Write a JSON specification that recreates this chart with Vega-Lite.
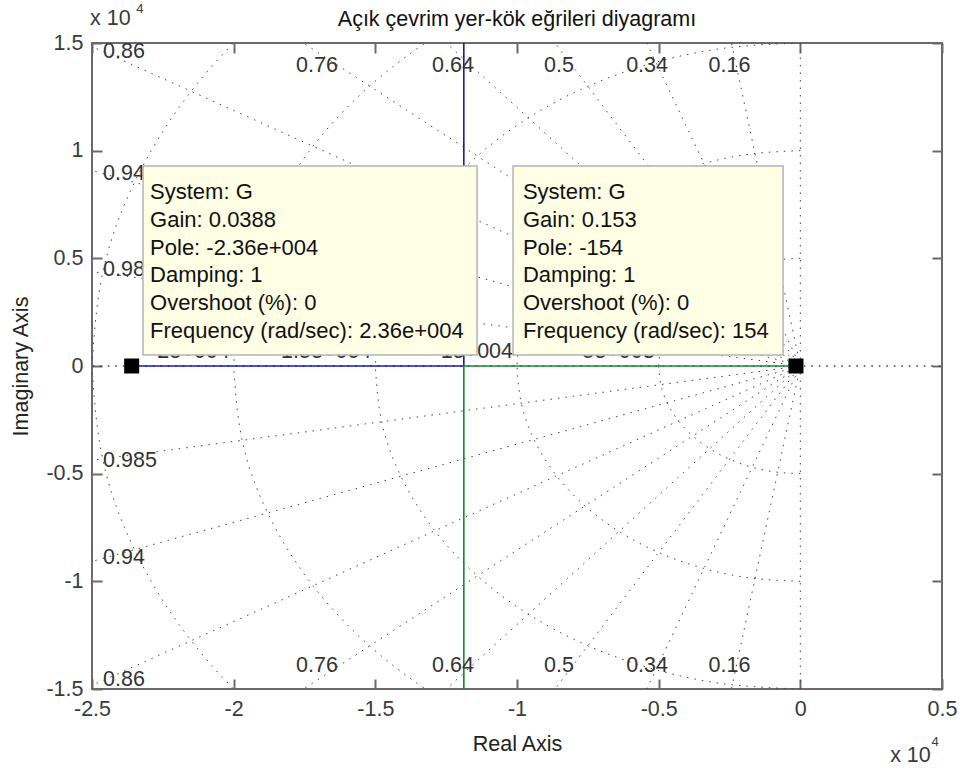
{
  "$schema": "https://vega.github.io/schema/vega-lite/v6.json",
  "width": 850,
  "height": 646,
  "autosize": {"type": "none"},
  "padding": {"left": 92, "top": 43, "right": 18, "bottom": 82},
  "background": "white",
  "config": {
    "view": {"stroke": "#6a6a6a", "strokeWidth": 2},
    "font": "Liberation Sans",
    "axis": {
      "grid": false, "domain": false,
      "labelFont": "Liberation Sans", "titleFont": "Liberation Sans",
      "labelFontSize": 21.5, "titleFontSize": 21.5,
      "labelColor": "#3a3a3a", "titleColor": "#222222", "titleFontWeight": "normal",
      "tickColor": "#6a6a6a", "tickWidth": 2,
      "labelFlush": false, "labelOverlap": false
    }
  },
  "title": {"text": "Açık çevrim yer-kök eğrileri diyagramı", "fontSize": 21.5, "fontWeight": "normal", "font": "Liberation Sans", "color": "#111111", "frame": "group", "anchor": "middle", "offset": 0, "baseline": "alphabetic", "dy": 45},
  "datasets": {
    "rays": [
      {"z": "0.16", "x": -0.48, "y": 2.9614, "yn": -2.9614},
      {"z": "0.34", "x": -1.02, "y": 2.8213, "yn": -2.8213},
      {"z": "0.5", "x": -1.5, "y": 2.5981, "yn": -2.5981},
      {"z": "0.64", "x": -1.92, "y": 2.3051, "yn": -2.3051},
      {"z": "0.76", "x": -2.28, "y": 1.9498, "yn": -1.9498},
      {"z": "0.86", "x": -2.58, "y": 1.5309, "yn": -1.5309},
      {"z": "0.94", "x": -2.82, "y": 1.0235, "yn": -1.0235},
      {"z": "0.985", "x": -2.955, "y": 0.5177, "yn": -0.5177},
      {"z": "0", "x": 0, "y": 3, "yn": -3},
      {"z": "1", "x": -3, "y": 0, "yn": 0},
      {"z": "1r", "x": 0.6, "y": 0, "yn": 0}
    ],
    "circ": [
      {"r": 0.5, "i": 0, "x": 0, "y": 0.5, "yn": -0.5},
      {"r": 0.5, "i": 1, "x": -0.0868, "y": 0.4924, "yn": -0.4924},
      {"r": 0.5, "i": 2, "x": -0.171, "y": 0.4698, "yn": -0.4698},
      {"r": 0.5, "i": 3, "x": -0.25, "y": 0.433, "yn": -0.433},
      {"r": 0.5, "i": 4, "x": -0.3214, "y": 0.383, "yn": -0.383},
      {"r": 0.5, "i": 5, "x": -0.383, "y": 0.3214, "yn": -0.3214},
      {"r": 0.5, "i": 6, "x": -0.433, "y": 0.25, "yn": -0.25},
      {"r": 0.5, "i": 7, "x": -0.4698, "y": 0.171, "yn": -0.171},
      {"r": 0.5, "i": 8, "x": -0.4924, "y": 0.0868, "yn": -0.0868},
      {"r": 0.5, "i": 9, "x": -0.5, "y": 0, "yn": 0},
      {"r": 1, "i": 0, "x": 0, "y": 1, "yn": -1},
      {"r": 1, "i": 1, "x": -0.1736, "y": 0.9848, "yn": -0.9848},
      {"r": 1, "i": 2, "x": -0.342, "y": 0.9397, "yn": -0.9397},
      {"r": 1, "i": 3, "x": -0.5, "y": 0.866, "yn": -0.866},
      {"r": 1, "i": 4, "x": -0.6428, "y": 0.766, "yn": -0.766},
      {"r": 1, "i": 5, "x": -0.766, "y": 0.6428, "yn": -0.6428},
      {"r": 1, "i": 6, "x": -0.866, "y": 0.5, "yn": -0.5},
      {"r": 1, "i": 7, "x": -0.9397, "y": 0.342, "yn": -0.342},
      {"r": 1, "i": 8, "x": -0.9848, "y": 0.1736, "yn": -0.1736},
      {"r": 1, "i": 9, "x": -1, "y": 0, "yn": 0},
      {"r": 1.5, "i": 0, "x": 0, "y": 1.5, "yn": -1.5},
      {"r": 1.5, "i": 1, "x": -0.2605, "y": 1.4772, "yn": -1.4772},
      {"r": 1.5, "i": 2, "x": -0.513, "y": 1.4095, "yn": -1.4095},
      {"r": 1.5, "i": 3, "x": -0.75, "y": 1.299, "yn": -1.299},
      {"r": 1.5, "i": 4, "x": -0.9642, "y": 1.149, "yn": -1.149},
      {"r": 1.5, "i": 5, "x": -1.149, "y": 0.9642, "yn": -0.9642},
      {"r": 1.5, "i": 6, "x": -1.299, "y": 0.75, "yn": -0.75},
      {"r": 1.5, "i": 7, "x": -1.4095, "y": 0.513, "yn": -0.513},
      {"r": 1.5, "i": 8, "x": -1.4772, "y": 0.2605, "yn": -0.2605},
      {"r": 1.5, "i": 9, "x": -1.5, "y": 0, "yn": 0},
      {"r": 2, "i": 0, "x": 0, "y": 2, "yn": -2},
      {"r": 2, "i": 1, "x": -0.3473, "y": 1.9696, "yn": -1.9696},
      {"r": 2, "i": 2, "x": -0.684, "y": 1.8794, "yn": -1.8794},
      {"r": 2, "i": 3, "x": -1, "y": 1.7321, "yn": -1.7321},
      {"r": 2, "i": 4, "x": -1.2856, "y": 1.5321, "yn": -1.5321},
      {"r": 2, "i": 5, "x": -1.5321, "y": 1.2856, "yn": -1.2856},
      {"r": 2, "i": 6, "x": -1.7321, "y": 1, "yn": -1},
      {"r": 2, "i": 7, "x": -1.8794, "y": 0.684, "yn": -0.684},
      {"r": 2, "i": 8, "x": -1.9696, "y": 0.3473, "yn": -0.3473},
      {"r": 2, "i": 9, "x": -2, "y": 0, "yn": 0},
      {"r": 2.5, "i": 0, "x": 0, "y": 2.5, "yn": -2.5},
      {"r": 2.5, "i": 1, "x": -0.4341, "y": 2.462, "yn": -2.462},
      {"r": 2.5, "i": 2, "x": -0.855, "y": 2.3492, "yn": -2.3492},
      {"r": 2.5, "i": 3, "x": -1.25, "y": 2.1651, "yn": -2.1651},
      {"r": 2.5, "i": 4, "x": -1.607, "y": 1.9151, "yn": -1.9151},
      {"r": 2.5, "i": 5, "x": -1.9151, "y": 1.607, "yn": -1.607},
      {"r": 2.5, "i": 6, "x": -2.1651, "y": 1.25, "yn": -1.25},
      {"r": 2.5, "i": 7, "x": -2.3492, "y": 0.855, "yn": -0.855},
      {"r": 2.5, "i": 8, "x": -2.462, "y": 0.4341, "yn": -0.4341},
      {"r": 2.5, "i": 9, "x": -2.5, "y": 0, "yn": 0}
    ],
    "locus": [
      {"b": "1", "i": 0, "x": -2.36, "y": 0},
      {"b": "1", "i": 1, "x": -1.1877, "y": 0},
      {"b": "1", "i": 2, "x": -1.1877, "y": 1.6},
      {"b": "2", "i": 0, "x": -0.0154, "y": 0},
      {"b": "2", "i": 1, "x": -1.1877, "y": 0},
      {"b": "2", "i": 2, "x": -1.1877, "y": -1.6}
    ],
    "flab": [
      {"t": "2e+004", "x": -2},
      {"t": "1.5e+004", "x": -1.5},
      {"t": "1e+004", "x": -1},
      {"t": "5e+003", "x": -0.5}
    ],
    "zlabc": [
      {"t": "0.76", "x": -1.706, "y": 1.391},
      {"t": "0.64", "x": -1.226, "y": 1.391},
      {"t": "0.5", "x": -0.852, "y": 1.391},
      {"t": "0.34", "x": -0.541, "y": 1.391},
      {"t": "0.16", "x": -0.25, "y": 1.391},
      {"t": "0.76", "x": -1.706, "y": -1.391},
      {"t": "0.64", "x": -1.226, "y": -1.391},
      {"t": "0.5", "x": -0.852, "y": -1.391},
      {"t": "0.34", "x": -0.541, "y": -1.391},
      {"t": "0.16", "x": -0.25, "y": -1.391}
    ],
    "zlabl": [
      {"t": "0.86", "x": -2.461, "y": 1.458},
      {"t": "0.94", "x": -2.461, "y": 0.892},
      {"t": "0.985", "x": -2.461, "y": 0.446},
      {"t": "0.985", "x": -2.461, "y": -0.44},
      {"t": "0.94", "x": -2.461, "y": -0.892},
      {"t": "0.86", "x": -2.461, "y": -1.458}
    ],
    "poles": [
      {"x": -2.36, "y": 0},
      {"x": -0.0154, "y": 0}
    ],
    "tips": [
      {"x1": -2.32, "x2": -1.141, "y1": 0.051, "y2": 0.929},
      {"x1": -1.014, "x2": -0.061, "y1": 0.051, "y2": 0.929}
    ],
    "tiptext": [
      {"t": "System: G", "x": -2.295, "y": 0.776},
      {"t": "Gain: 0.0388", "x": -2.295, "y": 0.646},
      {"t": "Pole: -2.36e+004", "x": -2.295, "y": 0.516},
      {"t": "Damping: 1", "x": -2.295, "y": 0.39},
      {"t": "Overshoot (%): 0", "x": -2.295, "y": 0.26},
      {"t": "Frequency (rad/sec): 2.36e+004", "x": -2.295, "y": 0.13},
      {"t": "System: G", "x": -0.979, "y": 0.776},
      {"t": "Gain: 0.153", "x": -0.979, "y": 0.646},
      {"t": "Pole: -154", "x": -0.979, "y": 0.516},
      {"t": "Damping: 1", "x": -0.979, "y": 0.39},
      {"t": "Overshoot (%): 0", "x": -0.979, "y": 0.26},
      {"t": "Frequency (rad/sec): 154", "x": -0.979, "y": 0.13}
    ],
    "exp1": [
      {"t": "x 10", "x": -2.507, "y": 1.584},
      {"t": "x 10", "x": 0.317, "y": -1.839}
    ],
    "exp2": [
      {"t": "4", "x": -2.331, "y": 1.658},
      {"t": "4", "x": 0.476, "y": -1.746}
    ]
  },
  "layer": [
    {
      "data": {"name": "rays"},
      "mark": {"type": "rule", "clip": true, "color": "#444444", "strokeWidth": 1, "strokeDash": [1.5, 6]},
      "encoding": {
        "x": {"field": "x", "type": "quantitative", "scale": {"domain": [-2.5, 0.5], "nice": false, "zero": false},
          "axis": {"orient": "bottom", "values": [-2.5, -2, -1.5, -1, -0.5, 0, 0.5], "labelExpr": "toString(datum.value)", "ticks": false, "labelPadding": 9, "labelBaseline": "top", "title": "Real Axis", "titlePadding": 14}},
        "y": {"field": "y", "type": "quantitative", "scale": {"domain": [-1.5, 1.5], "nice": false, "zero": false},
          "axis": {"orient": "left", "values": [-1.5, -1, -0.5, 0, 0.5, 1, 1.5], "labelExpr": "toString(datum.value)", "ticks": false, "labelPadding": 9, "title": "Imaginary Axis", "titlePadding": 13}},
        "x2": {"datum": 0},
        "y2": {"datum": 0}
      }
    },
    {
      "data": {"name": "rays"},
      "mark": {"type": "rule", "clip": true, "color": "#444444", "strokeWidth": 1, "strokeDash": [1.5, 6]},
      "encoding": {
        "x": {"field": "x", "type": "quantitative", "scale": {"domain": [-2.5, 0.5], "nice": false, "zero": false},
          "axis": {"orient": "bottom", "values": [-2.5, -2, -1.5, -1, -0.5, 0, 0.5], "labels": false, "ticks": true, "tickSize": 10, "offset": -10, "title": null}},
        "y": {"field": "yn", "type": "quantitative", "scale": {"domain": [-1.5, 1.5], "nice": false, "zero": false},
          "axis": {"orient": "left", "values": [-1.5, -1, -0.5, 0, 0.5, 1, 1.5], "labels": false, "ticks": true, "tickSize": 10, "offset": -10, "title": null}},
        "x2": {"datum": 0},
        "y2": {"datum": 0}
      }
    },
    {
      "data": {"name": "circ"},
      "mark": {"type": "line", "clip": true, "color": "#444444", "strokeWidth": 1, "strokeDash": [1.5, 6], "interpolate": "natural"},
      "encoding": {
        "x": {"field": "x", "type": "quantitative", "scale": {"domain": [-2.5, 0.5], "nice": false, "zero": false},
          "axis": {"orient": "top", "values": [-2.5, -2, -1.5, -1, -0.5, 0, 0.5], "labels": false, "ticks": true, "tickSize": 10, "offset": -10, "title": null}},
        "y": {"field": "y", "type": "quantitative", "scale": {"domain": [-1.5, 1.5], "nice": false, "zero": false},
          "axis": {"orient": "right", "values": [-1.5, -1, -0.5, 0, 0.5, 1, 1.5], "labels": false, "ticks": true, "tickSize": 10, "offset": -10, "title": null}},
        "detail": {"field": "r", "type": "nominal"},
        "order": {"field": "i", "type": "quantitative"}
      }
    },
    {
      "data": {"name": "circ"},
      "mark": {"type": "line", "clip": true, "color": "#444444", "strokeWidth": 1, "strokeDash": [1.5, 6], "interpolate": "natural"},
      "encoding": {
        "x": {"field": "x", "type": "quantitative", "scale": {"domain": [-2.5, 0.5], "nice": false, "zero": false}, "axis": null},
        "y": {"field": "yn", "type": "quantitative", "scale": {"domain": [-1.5, 1.5], "nice": false, "zero": false}, "axis": null},
        "detail": {"field": "r", "type": "nominal"},
        "order": {"field": "i", "type": "quantitative"}
      }
    },
    {
      "data": {"name": "locus"},
      "mark": {"type": "line", "clip": true, "strokeWidth": 1.6},
      "encoding": {
        "x": {"field": "x", "type": "quantitative", "scale": {"domain": [-2.5, 0.5], "nice": false, "zero": false}, "axis": null},
        "y": {"field": "y", "type": "quantitative", "scale": {"domain": [-1.5, 1.5], "nice": false, "zero": false}, "axis": null},
        "color": {"field": "b", "type": "nominal", "scale": {"domain": ["1", "2"], "range": ["#1a1aa6", "#108a30"]}, "legend": null},
        "order": {"field": "i", "type": "quantitative"}
      }
    },
    {
      "data": {"name": "flab"},
      "mark": {"type": "text", "align": "right", "baseline": "alphabetic", "dx": -4, "dy": -8, "font": "Liberation Sans", "fontSize": 21.5, "color": "#333333"},
      "encoding": {
        "x": {"field": "x", "type": "quantitative", "scale": {"domain": [-2.5, 0.5], "nice": false, "zero": false}, "axis": null},
        "y": {"datum": 0, "type": "quantitative", "scale": {"domain": [-1.5, 1.5], "nice": false, "zero": false}, "axis": null},
        "text": {"field": "t"}
      }
    },
    {
      "data": {"name": "zlabc"},
      "mark": {"type": "text", "align": "center", "baseline": "middle", "font": "Liberation Sans", "fontSize": 21.5, "color": "#333333"},
      "encoding": {
        "x": {"field": "x", "type": "quantitative", "scale": {"domain": [-2.5, 0.5], "nice": false, "zero": false}, "axis": null},
        "y": {"field": "y", "type": "quantitative", "scale": {"domain": [-1.5, 1.5], "nice": false, "zero": false}, "axis": null},
        "text": {"field": "t"}
      }
    },
    {
      "data": {"name": "zlabl"},
      "mark": {"type": "text", "align": "left", "baseline": "middle", "font": "Liberation Sans", "fontSize": 21.5, "color": "#333333"},
      "encoding": {
        "x": {"field": "x", "type": "quantitative", "scale": {"domain": [-2.5, 0.5], "nice": false, "zero": false}, "axis": null},
        "y": {"field": "y", "type": "quantitative", "scale": {"domain": [-1.5, 1.5], "nice": false, "zero": false}, "axis": null},
        "text": {"field": "t"}
      }
    },
    {
      "data": {"name": "poles"},
      "mark": {"type": "square", "filled": true, "color": "#000000", "size": 225, "opacity": 1},
      "encoding": {
        "x": {"field": "x", "type": "quantitative", "scale": {"domain": [-2.5, 0.5], "nice": false, "zero": false}, "axis": null},
        "y": {"field": "y", "type": "quantitative", "scale": {"domain": [-1.5, 1.5], "nice": false, "zero": false}, "axis": null}
      }
    },
    {
      "data": {"name": "tips"},
      "mark": {"type": "rect", "fill": "#ffffe6", "stroke": "#b4b4b4", "strokeWidth": 1.5},
      "encoding": {
        "x": {"field": "x1", "type": "quantitative", "scale": {"domain": [-2.5, 0.5], "nice": false, "zero": false}, "axis": null},
        "x2": {"field": "x2"},
        "y": {"field": "y1", "type": "quantitative", "scale": {"domain": [-1.5, 1.5], "nice": false, "zero": false}, "axis": null},
        "y2": {"field": "y2"}
      }
    },
    {
      "data": {"name": "tiptext"},
      "mark": {"type": "text", "align": "left", "baseline": "alphabetic", "font": "Liberation Sans", "fontSize": 22, "color": "#111111"},
      "encoding": {
        "x": {"field": "x", "type": "quantitative", "scale": {"domain": [-2.5, 0.5], "nice": false, "zero": false}, "axis": null},
        "y": {"field": "y", "type": "quantitative", "scale": {"domain": [-1.5, 1.5], "nice": false, "zero": false}, "axis": null},
        "text": {"field": "t"}
      }
    },
    {
      "data": {"name": "exp1"},
      "mark": {"type": "text", "align": "left", "baseline": "alphabetic", "font": "Liberation Sans", "fontSize": 21.5, "color": "#3a3a3a", "clip": false},
      "encoding": {
        "x": {"field": "x", "type": "quantitative", "scale": {"domain": [-2.5, 0.5], "nice": false, "zero": false}, "axis": null},
        "y": {"field": "y", "type": "quantitative", "scale": {"domain": [-1.5, 1.5], "nice": false, "zero": false}, "axis": null},
        "text": {"field": "t"}
      }
    },
    {
      "data": {"name": "exp2"},
      "mark": {"type": "text", "align": "center", "baseline": "middle", "font": "Liberation Sans", "fontSize": 13, "color": "#3a3a3a", "clip": false},
      "encoding": {
        "x": {"field": "x", "type": "quantitative", "scale": {"domain": [-2.5, 0.5], "nice": false, "zero": false}, "axis": null},
        "y": {"field": "y", "type": "quantitative", "scale": {"domain": [-1.5, 1.5], "nice": false, "zero": false}, "axis": null},
        "text": {"field": "t"}
      }
    }
  ],
  "resolve": {"axis": {"x": "independent", "y": "independent"}}
}
